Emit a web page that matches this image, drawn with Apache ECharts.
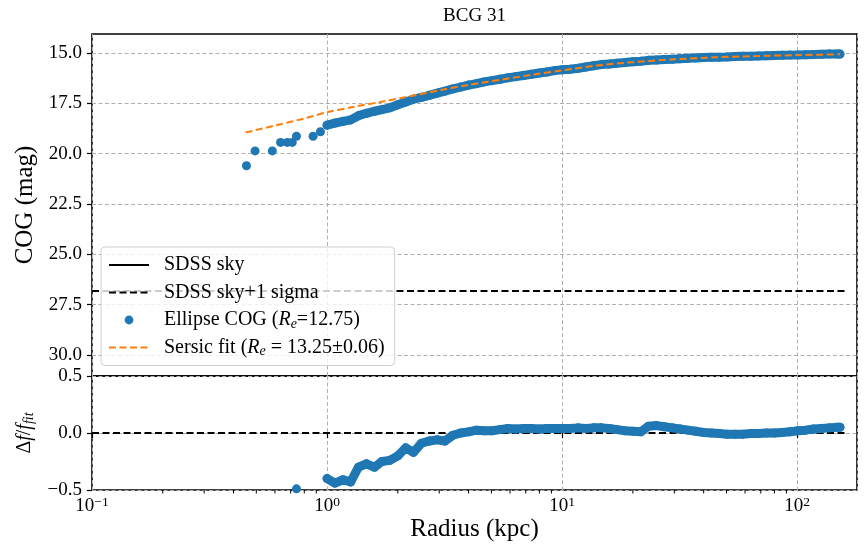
<!DOCTYPE html>
<html><head><meta charset="utf-8">
<script src="https://cdn.jsdelivr.net/npm/echarts@6/dist/echarts.min.js"></script>
<style>html,body{margin:0;padding:0;background:#fff}#c{width:865px;height:552px}</style>
</head><body><div id="c"></div>
<script>
// ---------- data ----------
// sparse inner ellipse isophotes (kpc, mag, residual)
const innerRadius = [0.454, 0.494, 0.585, 0.634, 0.677, 0.711, 0.741, 0.872, 0.937];
const innerMag    = [20.60, 19.86, 19.86, 19.44, 19.44, 19.44, 19.13, 19.13, 18.91];
const innerResid  = [-0.78, -0.61, -0.68, -0.57, -0.60, -0.62, -0.49, -0.61, -0.51];

// dense ellipse COG profile
const cogRadius = [1.00, 1.08, 1.17, 1.26, 1.36, 1.47, 1.59, 1.71, 1.85, 2.0, 2.16, 2.33, 2.52, 2.72, 2.94, 3.17,
  3.43, 3.7, 4.0, 4.32, 4.66, 5.03, 5.44, 5.87, 6.34, 6.85, 7.4, 8.0, 8.6, 9.3, 10.0, 10.8, 11.7, 12.6, 13.6,
  14.7, 15.9, 17.1, 18.5, 20.0, 21.6, 23.3, 25.2, 27.2, 29.4, 31.7, 34.3, 37.0, 40.0, 43.2, 46.6, 50.3, 54.4,
  58.7, 63.4, 68.5, 74.0, 80.0, 86.3, 93.2, 100.7, 108.7, 117.4, 126.8, 137.0, 148.0, 152.0];
const cogMag = [18.58, 18.48, 18.39, 18.32, 18.11, 17.99, 17.89, 17.81, 17.72, 17.57, 17.43, 17.29, 17.20, 17.10,
  16.99, 16.89, 16.78, 16.69, 16.59, 16.52, 16.43, 16.37, 16.30, 16.23, 16.17, 16.11, 16.05, 15.99, 15.94, 15.87,
  15.83, 15.80, 15.75, 15.69, 15.63, 15.57, 15.54, 15.50, 15.47, 15.43, 15.40, 15.36, 15.34, 15.32, 15.30, 15.28,
  15.26, 15.24, 15.22, 15.21, 15.20, 15.19, 15.17, 15.16, 15.15, 15.14, 15.13, 15.12, 15.11, 15.10, 15.09, 15.08,
  15.07, 15.06, 15.05, 15.05, 15.05];
const cogResid = [-0.40, -0.44, -0.41, -0.43, -0.30, -0.27, -0.30, -0.25, -0.24, -0.20, -0.13, -0.17, -0.09, -0.07,
  -0.06, -0.07, -0.02, 0.00, 0.01, 0.025, 0.02, 0.02, 0.03, 0.04, 0.035, 0.04, 0.04, 0.035, 0.04, 0.04, 0.04, 0.04,
  0.045, 0.04, 0.045, 0.045, 0.04, 0.03, 0.02, 0.015, 0.01, 0.06, 0.065, 0.055, 0.045, 0.035, 0.025, 0.015, 0.005,
  0.0, -0.005, -0.01, -0.01, -0.01, -0.005, -0.005, 0.0, 0.0, 0.005, 0.01, 0.02, 0.025, 0.035, 0.04, 0.045, 0.05, 0.05];

// Sersic fit curve
const sersicRadius = [0.45, 0.6, 0.8, 1.0, 1.3, 1.7, 2.2, 3.0, 4.0, 5.5, 7.5, 10, 14, 20, 30, 45, 65, 100, 152];
const sersicMag    = [18.95, 18.60, 18.25, 17.94, 17.67, 17.42, 17.17, 16.85, 16.58, 16.32, 16.07, 15.86, 15.62,
  15.45, 15.31, 15.21, 15.15, 15.10, 15.06];

// reference levels
const skyMag = 31.6;          // SDSS sky (below the visible range)
const skySigmaMag = 26.83;    // SDSS sky + 1 sigma
const levelRadius = [0.1, 163];

// tick values
const magTicks = [15.0, 17.5, 20.0, 22.5, 25.0, 27.5, 30.0];
const minorTicks = [];
[0.1, 1, 10, 100].forEach(d => { for (let k = 2; k <= 9; k++) { const v = d * k; if (v < 179.6) minorTicks.push(+v.toPrecision(3)); } });

// ---------- chart ----------
const FONT = 'Liberation Serif';
const BLUE = '#1f77b4', ORANGE = '#ff7f0e';
const gridLine = { show: true, lineStyle: { color: '#b0b0b0', width: 1, type: [4, 2.5] } };
const legendLabels = {
  'SDSS sky': 'SDSS sky',
  'SDSS sky+1 sigma': 'SDSS sky+1 sigma',
  'Ellipse COG': 'Ellipse COG ({it|R}{sub|e}=12.75)',
  'Sersic fit': 'Sersic fit ({it|R}{sub|e} = 13.25±0.06)'
};
const G0 = { left: 92, top: 34, width: 765, height: 342 };
const G1 = { left: 92, top: 376, width: 765, height: 114 };
const gridBase = { show: true, borderColor: '#000', borderWidth: 1.6, backgroundColor: 'transparent',
  containLabel: false, outerBoundsMode: 'none' };

const chart = echarts.init(document.getElementById('c'), null, { renderer: 'canvas' });
chart.setOption({
  animation: false,
  backgroundColor: '#fff',
  title: {
    text: 'BCG 31', left: 474.5, top: 7, textAlign: 'center', padding: 0,
    textStyle: { fontFamily: FONT, fontSize: 19, fontWeight: 'normal', color: '#000' }
  },
  grid: [Object.assign({}, gridBase, G0), Object.assign({}, gridBase, G1)],
  xAxis: [
    { type: 'log', gridIndex: 0, min: 0.1, max: 179.6, interval: 1, logBase: 10,
      axisLine: { show: false }, axisTick: { show: false }, axisLabel: { show: false }, splitLine: gridLine },
    { type: 'log', gridIndex: 1, min: 0.1, max: 179.6, interval: 1, logBase: 10,
      name: 'Radius (kpc)', nameLocation: 'middle', nameGap: 21,
      nameTextStyle: { fontFamily: FONT, fontSize: 25, color: '#000' },
      axisLine: { show: false },
      axisTick: { show: true, length: 5, lineStyle: { color: '#000', width: 1.2 } },
      axisLabel: {
        margin: 5, color: '#000', showMaxLabel: false,
        formatter: v => { const e = Math.round(Math.log10(v)); return '{b|10}{sup|' + (e < 0 ? '\u2212' + (-e) : e) + '}'; },
        rich: {
          b: { fontFamily: FONT, fontSize: 19, lineHeight: 23, color: '#000' },
          sup: { fontFamily: FONT, fontSize: 13.5, lineHeight: 8, verticalAlign: 'top', color: '#000' }
        }
      },
      splitLine: gridLine }
  ],
  yAxis: [
    { type: 'value', gridIndex: 0, inverse: true, min: 14.05, max: 31.05,
      name: 'COG (mag)', nameLocation: 'middle', nameGap: 50, nameRotate: 90,
      nameTextStyle: { fontFamily: FONT, fontSize: 25, color: '#000' },
      axisLine: { show: false },
      axisTick: { show: true, length: 5, customValues: magTicks, lineStyle: { color: '#000', width: 1.2 } },
      axisLabel: { customValues: magTicks, margin: 10, fontFamily: FONT, fontSize: 19, color: '#000',
        formatter: v => v.toFixed(1) },
      splitLine: gridLine },
    { type: 'value', gridIndex: 1, min: -0.5, max: 0.5, interval: 0.5,
      name: '{n|\u0394}{i|f}{n|/}{i|f}{s|fit}', nameLocation: 'middle', nameGap: 47, nameRotate: 90,
      nameTextStyle: { color: '#000', rich: {
        n: { fontFamily: FONT, fontSize: 20, lineHeight: 24 },
        i: { fontFamily: FONT, fontSize: 20, lineHeight: 24, fontStyle: 'italic' },
        s: { fontFamily: FONT, fontSize: 14, lineHeight: 8, fontStyle: 'italic', verticalAlign: 'bottom' } } },
      axisLine: { show: false },
      axisTick: { show: true, length: 5, lineStyle: { color: '#000', width: 1.2 } },
      axisLabel: { margin: 10, fontFamily: FONT, fontSize: 19, color: '#000',
        formatter: v => (v < 0 ? '\u2212' : '') + Math.abs(v).toFixed(1) },
      splitLine: gridLine }
  ],
  legend: {
    orient: 'vertical', left: 101, top: 247, itemWidth: 40, itemHeight: 14, itemGap: 5.5,
    padding: [7, 10, 7, 7], backgroundColor: 'rgba(255,255,255,0.8)', borderColor: '#d0d0d0',
    borderWidth: 1, borderRadius: 4, selectedMode: false, z: 10,
    formatter: n => legendLabels[n],
    textStyle: {
      fontFamily: FONT, fontSize: 20, color: '#000', lineHeight: 22, padding: [0, 0, 0, 10],
      rich: {
        it: { fontFamily: FONT, fontSize: 20, lineHeight: 22, fontStyle: 'italic', color: '#000' },
        sub: { fontFamily: FONT, fontSize: 14, lineHeight: 8, fontStyle: 'italic', verticalAlign: 'bottom', color: '#000' }
      }
    },
    data: [
      { name: 'SDSS sky', itemStyle: { opacity: 0 } },
      { name: 'SDSS sky+1 sigma', itemStyle: { opacity: 0 } },
      { name: 'Ellipse COG', icon: 'path://M-20,-7M20,7M-4.4,0a4.4,4.4 0 1,0 8.8,0a4.4,4.4 0 1,0 -8.8,0' },
      { name: 'Sersic fit', itemStyle: { opacity: 0 } }
    ]
  },
  series: [
    { name: 'SDSS sky', type: 'line', xAxisIndex: 0, yAxisIndex: 0, symbol: 'none', clip: true,
      data: levelRadius.map(r => [r, skyMag]), lineStyle: { color: '#000', width: 2 }, itemStyle: { color: '#000' } },
    { name: 'SDSS sky+1 sigma', type: 'line', xAxisIndex: 0, yAxisIndex: 0, symbol: 'none',
      data: levelRadius.map(r => [r, skySigmaMag]), lineStyle: { color: '#000', width: 2, type: [7, 3.5] },
      itemStyle: { color: '#000' } },
    { name: 'Ellipse COG', type: 'scatter', xAxisIndex: 0, yAxisIndex: 0, symbolSize: 9,
      data: innerRadius.map((r, i) => [r, innerMag[i]]), itemStyle: { color: BLUE, opacity: 1 } },
    { name: 'Ellipse COG', type: 'line', xAxisIndex: 0, yAxisIndex: 0, symbol: 'circle', symbolSize: 9,
      showAllSymbol: true, data: cogRadius.map((r, i) => [r, cogMag[i]]),
      lineStyle: { color: BLUE, width: 9, cap: 'round', join: 'round' }, itemStyle: { color: BLUE } },
    { name: 'Sersic fit', type: 'line', xAxisIndex: 0, yAxisIndex: 0, symbol: 'none', smooth: 0.3, z: 5,
      data: sersicRadius.map((r, i) => [r, sersicMag[i]]),
      lineStyle: { color: ORANGE, width: 2, type: [7, 3.5] }, itemStyle: { color: ORANGE } },

    { name: 'zero', type: 'line', xAxisIndex: 1, yAxisIndex: 1, symbol: 'none',
      data: levelRadius.map(r => [r, 0]), lineStyle: { color: '#000', width: 2, type: [7, 3.5] } },
    { name: 'Ellipse COG', type: 'scatter', xAxisIndex: 1, yAxisIndex: 1, symbolSize: 9,
      data: innerRadius.map((r, i) => [r, innerResid[i]]), itemStyle: { color: BLUE, opacity: 1 } },
    { name: 'Ellipse COG', type: 'line', xAxisIndex: 1, yAxisIndex: 1, symbol: 'circle', symbolSize: 9,
      showAllSymbol: true, data: cogRadius.map((r, i) => [r, cogResid[i]]),
      lineStyle: { color: BLUE, width: 9, cap: 'round', join: 'round' }, itemStyle: { color: BLUE } },
    { name: 'minor ticks', type: 'custom', xAxisIndex: 1, yAxisIndex: 1, silent: true,
      data: minorTicks.map(v => [v, -0.5]), encode: { x: 0, y: 1 },
      renderItem: (params, api) => {
        const p = api.coord([api.value(0), -0.5]);
        return { type: 'line', shape: { x1: p[0], y1: p[1], x2: p[0], y2: p[1] + 3.5 },
          style: { stroke: '#000', lineWidth: 1 } };
      } }
  ]
});
</script></body></html>
